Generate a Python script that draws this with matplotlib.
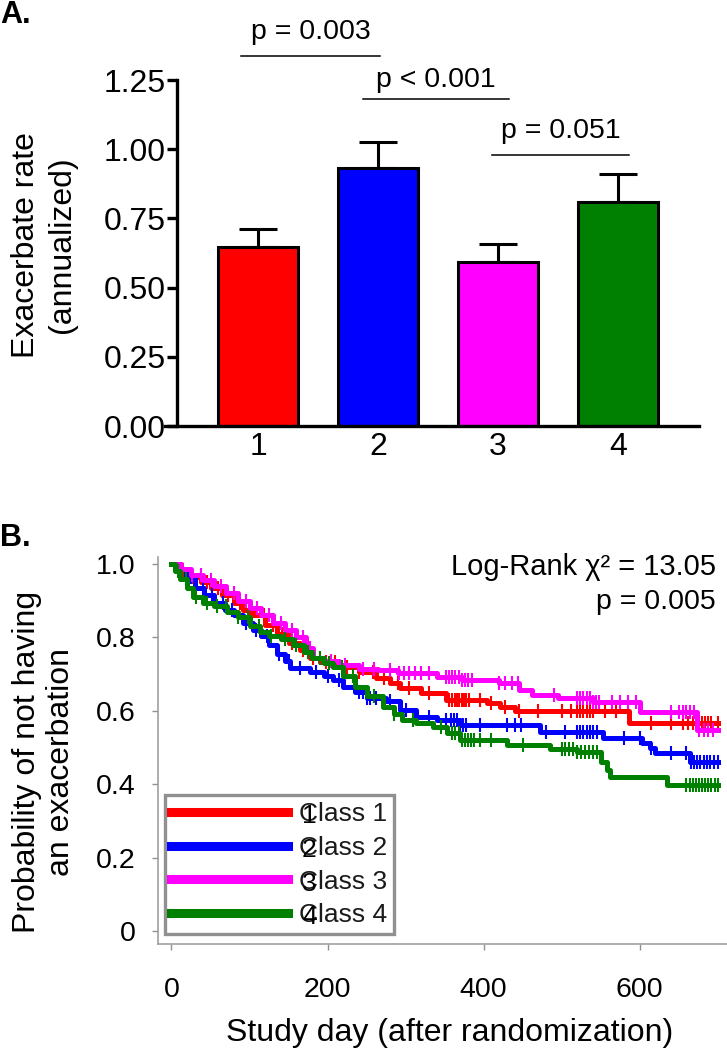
import matplotlib
matplotlib.use('Agg')
import matplotlib.pyplot as plt
import numpy as np

plt.rcParams['font.family'] = ['Liberation Sans', 'DejaVu Sans']

# ---- panel A data ----
classes = ['1', '2', '3', '4']
rates = [0.647, 0.932, 0.592, 0.809]
rate_err = [0.064, 0.094, 0.067, 0.102]
bar_colors = ['#ff0000', '#0000ff', '#ff00ff', '#008000']
sig_labels = ['p = 0.003', 'p < 0.001', 'p = 0.051']
sig_x0 = [0.86, 1.875, 2.95]
sig_x1 = [2.02, 3.09, 4.09]
sig_y = [1.337, 1.181, 0.979]
sig_text_y = [1.398, 1.225, 1.04]

# ---- panel B data (Kaplan-Meier steps) ----
km_t1 = [0, 12, 25, 38, 50, 65, 80, 92, 105, 120, 135, 150, 165, 178, 190, 215,
         240, 262, 280, 293, 320, 352, 405, 421, 440, 586, 700]
km_s1 = [1.0, .98, .965, .95, .935, .915, .895, .875, .86, .835, .81, .785, .765,
         .745, .733, .72, .705, .69, .675, .662, .648, .630, .622, .611, .600,
         .567, .567]
km_t2 = [0, 7, 18, 30, 42, 55, 68, 80, 92, 105, 115, 125, 135, 145, 152, 178,
         195, 207, 220, 235, 250, 275, 293, 314, 340, 370, 472, 553, 603, 613,
         620, 665, 700]
km_s2 = [1.0, .985, .965, .935, .915, .895, .875, .86, .84, .82, .805, .78, .755,
         .735, .717, .706, .695, .684, .665, .65, .635, .626, .602, .584, .575,
         .561, .543, .526, .512, .499, .485, .461, .461]
km_t3 = [0, 12, 25, 40, 55, 70, 85, 100, 115, 130, 145, 160, 172, 182, 195, 215,
         240, 265, 290, 340, 372, 420, 445, 462, 495, 540, 600, 673, 700]
km_s3 = [1.0, .985, .97, .955, .94, .92, .90, .88, .86, .84, .82, .80, .77, .745,
         .735, .725, .715, .71, .703, .693, .684, .675, .657, .643, .635, .625,
         .598, .548, .548]
km_t4 = [0, 5, 11, 20, 28, 40, 55, 71, 85, 100, 113, 125, 140, 156, 170, 180,
         195, 207, 220, 235, 250, 271, 285, 295, 314, 335, 353, 370, 430, 485,
         520, 551, 558, 562, 635, 700]
km_s4 = [1.0, .98, .96, .935, .91, .895, .885, .87, .855, .83, .815, .805, .795,
         .778, .76, .745, .73, .72, .695, .665, .64, .61, .59, .575, .566, .556,
         .54, .52, .507, .497, .488, .461, .439, .42, .398, .398]

cens1 = [15, 28, 45, 60, 72, 88, 100, 118, 130, 142, 155, 168, 182, 198, 210,
         225, 240, 258, 272, 290, 305, 330, 356, 360, 363, 366, 369, 372, 375,
         378, 381, 395, 410, 428, 445, 470, 500, 512, 520, 524, 528, 532, 536,
         540, 555, 570, 615, 640, 655, 662, 668, 672, 676, 680, 684, 688, 692, 700]
cens2 = [10, 25, 40, 52, 66, 78, 95, 108, 122, 138, 150, 165, 185, 200, 215,
         240, 245, 250, 255, 262, 280, 300, 330, 352, 358, 362, 366, 370, 374,
         378, 395, 430, 440, 448, 480, 505, 520, 524, 528, 532, 536, 540, 545,
         580, 600, 615, 640, 660, 666, 670, 674, 678, 682, 686, 690, 695, 700]
cens3 = [12, 26, 38, 50, 64, 80, 95, 110, 125, 140, 155, 168, 178, 190, 205,
         222, 245, 260, 280, 292, 298, 305, 312, 320, 330, 352, 356, 360, 364,
         368, 372, 376, 380, 385, 420, 428, 436, 444, 490, 520, 524, 528, 532,
         536, 540, 544, 548, 565, 575, 585, 595, 640, 650, 655, 660, 665, 670,
         676, 682, 688, 694]
cens4 = [8, 18, 32, 45, 58, 70, 85, 98, 112, 128, 145, 160, 175, 190, 202, 218,
         232, 260, 285, 310, 345, 360, 364, 368, 372, 376, 380, 384, 388, 395,
         410, 450, 500, 505, 510, 515, 520, 525, 530, 535, 540, 545, 660, 664,
         668, 672, 676, 680, 684, 688, 692, 696, 700]

km_times = [km_t1, km_t2, km_t3, km_t4]
km_surv = [km_s1, km_s2, km_s3, km_s4]
km_cens = [cens1, cens2, cens3, cens4]
km_labels = ['Class 1', 'Class 2', 'Class 3', 'Class 4']
km_colors = ['#ff0000', '#0000ff', '#ff00ff', '#008000']

W, H = 727, 1050
fig = plt.figure(figsize=(W / 100, H / 100), dpi=100)

# ================= Panel A =================
axA = fig.add_axes([165 / W, 1 - 426 / H, (699 - 165) / W, (426 - 80) / H])
xpos = np.arange(1, len(classes) + 1)
axA.bar(xpos, rates, width=0.667, color=bar_colors, edgecolor='black',
        linewidth=2.2, zorder=2)
axA.errorbar(xpos, rates, yerr=[np.zeros(len(rates)), rate_err], fmt='none',
             ecolor='black', elinewidth=2.2, capsize=14, capthick=2.2, zorder=1)
axA.set_xlim(0.225, 4.675)
axA.set_ylim(0, 1.25)
axA.spines['left'].set_position(('data', 0.325))
for s in ['top', 'right']:
    axA.spines[s].set_visible(False)
for s in ['left', 'bottom']:
    axA.spines[s].set_linewidth(2.4)
axA.set_yticks([0, 0.25, 0.5, 0.75, 1.0, 1.25])
axA.set_yticklabels(['0.00', '0.25', '0.50', '0.75', '1.00', '1.25'])
axA.set_xticks(xpos)
axA.set_xticklabels(classes)
axA.tick_params(axis='y', length=7, width=2.4, pad=1, labelsize=23)
axA.tick_params(axis='x', length=0, pad=4, labelsize=23)

for lab, x0, x1, y, ty in zip(sig_labels, sig_x0, sig_x1, sig_y, sig_text_y):
    axA.plot([x0, x1], [y, y], color='black', lw=1.1, clip_on=False)
    axA.text((x0 + x1) / 2, ty, lab, ha='center', va='baseline', fontsize=20.5,
             clip_on=False)

fig.text(44 / W, 1 - 245 / H, 'Exacerbate rate\n(annualized)', rotation=90,
         ha='center', va='center', fontsize=23, linespacing=1.25)
fig.text(0, 1 - 15 / H, 'A.', fontsize=22, fontweight='bold', ha='left',
         va='center')

# ================= Panel B =================
axB = fig.add_axes([158 / W, 1 - 944 / H, (W - 158) / W, (944 - 557) / H])
for t, s, c, col, lab in zip(km_times, km_surv, km_cens, km_colors, km_labels):
    axB.step(t, s, where='post', color=col, lw=3.6, label=lab)
    idx = np.searchsorted(t, c, side='right') - 1
    axB.plot(c, np.array(s)[idx], ls='none', marker='|', color=col,
             markersize=10, markeredgewidth=1.5)
axB.set_xlim(-17.3, 712)
axB.set_ylim(-0.0354, 1.019)
for s in ['top', 'right']:
    axB.spines[s].set_visible(False)
for s in ['left', 'bottom']:
    axB.spines[s].set_color('#a0a0a0')
    axB.spines[s].set_linewidth(1.2)
axB.set_xticks([0, 200, 400, 600])
axB.set_yticks([0, 0.2, 0.4, 0.6, 0.8, 1.0])
axB.set_yticklabels(['0', '0.2', '0.4', '0.6', '0.8', '1.0'])
axB.tick_params(axis='x', length=4, width=1, color='#909090', pad=20,
                labelsize=20.5)
axB.tick_params(axis='y', length=4, width=1, color='#909090', pad=12,
                labelsize=20.5)

leg = axB.legend(loc='lower left', bbox_to_anchor=(0.012, 0.026),
                 borderaxespad=0, fontsize=19, handlelength=4.4,
                 handletextpad=0.45, labelspacing=0.37, borderpad=0.25,
                 fancybox=False, framealpha=1)
leg.get_frame().set_edgecolor('#909090')
leg.get_frame().set_linewidth(2.4)
for line in leg.get_lines():
    line.set_linewidth(6.5)
for txt in leg.get_texts():
    txt.set_color('#1a1a1a')

fig.text(716 / W, 1 - 567 / H, 'Log-Rank \u03c7\u00b2 = 13.05', ha='right',
         va='center', fontsize=21)
fig.text(716 / W, 1 - 602 / H, 'p = 0.005', ha='right', va='center',
         fontsize=20.5)
fig.text(44 / W, 1 - 762 / H, 'Probability of not having\nan exacerbation',
         rotation=90, ha='center', va='center', fontsize=23, linespacing=1.2)
fig.text(450 / W, 1 - 1033 / H, 'Study day (after randomization)',
         ha='center', va='center', fontsize=23)
fig.text(0, 1 - 538 / H, 'B.', fontsize=22, fontweight='bold', ha='left',
         va='center')

# stray class digits overlapping the legend labels, as in the source image
fig.canvas.draw()
rend = fig.canvas.get_renderer()
for txt, lab in zip(leg.get_texts(), km_labels):
    bb = txt.get_window_extent(rend)
    cy = (bb.y0 + bb.y1) / 2 - 2
    fig.text((bb.x0 + 10) / W, cy / H, lab.split()[-1], ha='center',
             va='center', fontsize=19, color='black')

fig.savefig('out.png', dpi=100)
